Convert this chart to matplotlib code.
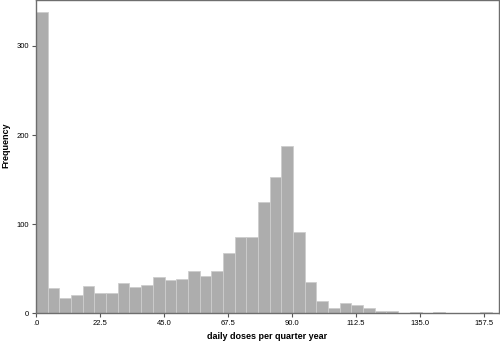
import numpy as np
import matplotlib
matplotlib.use("Agg")
import matplotlib.pyplot as plt
from matplotlib.ticker import FuncFormatter

plt.rcParams['font.family'] = ['Liberation Sans', 'DejaVu Sans']

bin_width = 4.11
counts = [338, 28, 17, 20, 31, 23, 23, 34, 29, 32,
          41, 37, 39, 47, 42, 47, 68, 86, 86, 125,
          153, 188, 91, 35, 14, 6, 11, 9, 6, 3,
          3, 0, 2, 0, 2, 0, 0, 0, 1]
x_ticks = [0, 22.5, 45.0, 67.5, 90.0, 112.5, 135.0, 157.5]
y_ticks = [0, 100, 200, 300]

edges = np.arange(len(counts)) * bin_width

fig = plt.figure(figsize=(5, 3.43), dpi=100)
ax = fig.add_axes([0.072, 0.0866, 0.925, 0.912])
ax.bar(edges, counts, width=bin_width, align='edge',
       color='#adadad', edgecolor='#cdcdcd', linewidth=0.6)

ax.set_xlim(0, 162.7)
ax.set_ylim(0, 351)
ax.set_xticks(x_ticks)
ax.set_yticks(y_ticks)

def fmt(v, pos):
    s = f"{v:.1f}"
    if s.startswith("0."):
        s = s[1:]
    return s
ax.xaxis.set_major_formatter(FuncFormatter(fmt))

for sp in ax.spines.values():
    sp.set_color('#6e6e6e')
    sp.set_linewidth(1.0)
ax.tick_params(axis='both', direction='out', length=3, width=0.8,
               color='#555555', labelsize=5.5, pad=2)
ax.set_xlabel('daily doses per quarter year', fontsize=6.5, fontweight='bold')
ax.set_ylabel('Frequency', fontsize=6.5, fontweight='bold')
ax.xaxis.label.set_va('center')
ax.yaxis.label.set_va('center')
ax.yaxis.label.set_ha('center')
ax.xaxis.set_label_coords(0.5, -0.075)
ax.yaxis.set_label_coords(-0.066, 0.536)

fig.savefig('out.png', dpi=100)
